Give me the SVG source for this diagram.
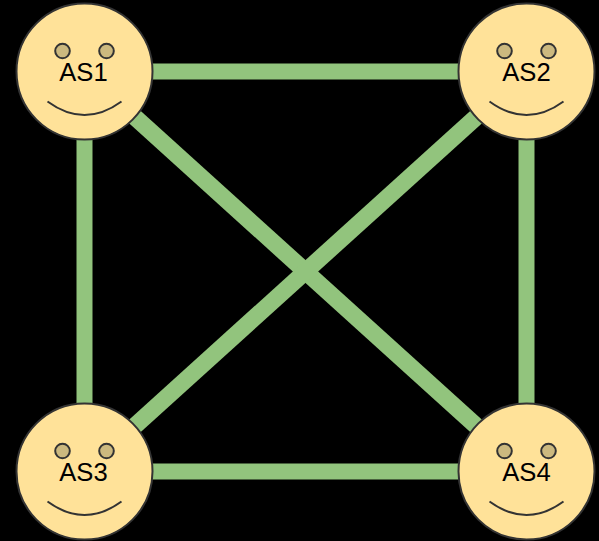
<svg xmlns="http://www.w3.org/2000/svg" width="599" height="541" viewBox="0 0 599 541">
<style>
.link{stroke:#92c47d;stroke-width:16;fill:none}
.diag{stroke-width:17}
.face{fill:#ffe299;stroke:#333;stroke-width:2}
.eye{fill:#ccb97f;stroke:#333;stroke-width:2}
.smile{fill:none;stroke:#333;stroke-width:2}
text{font-family:"Liberation Sans",Arial,sans-serif;font-size:25.6px;fill:#000;text-anchor:middle}
</style>
<defs>
<g id="smiley">
<circle class="face" cx="0" cy="0" r="68"/>
<circle class="eye" cx="-22" cy="-20.500" r="7.300"/>
<circle class="eye" cx="22" cy="-20.500" r="7.300"/>
<path class="smile" d="M-37 30Q0 57 37 30"/>
</g>
</defs>
<rect width="599" height="541" fill="#000"/>
<g id="connectors">
<line class="link" x1="84.500" y1="71.500" x2="526.500" y2="71.500"/>
<line class="link" x1="84.500" y1="471.500" x2="526.500" y2="471.500"/>
<line class="link" x1="84.500" y1="71.500" x2="84.500" y2="471.500"/>
<line class="link" x1="526.500" y1="71.500" x2="526.500" y2="471.500"/>
<line class="link diag" x1="84.500" y1="71.500" x2="526.500" y2="471.500"/>
<line class="link diag" x1="526.500" y1="71.500" x2="84.500" y2="471.500"/>
</g>
<g id="as1"><use href="#smiley" x="84.500" y="71.500"/><text x="83.500" y="81">AS1</text></g>
<g id="as2"><use href="#smiley" x="526.500" y="71.500"/><text x="526.500" y="81">AS2</text></g>
<g id="as3"><use href="#smiley" x="84.500" y="471.500"/><text x="83.500" y="481">AS3</text></g>
<g id="as4"><use href="#smiley" x="526.500" y="471.500"/><text x="526.500" y="481">AS4</text></g>
</svg>
